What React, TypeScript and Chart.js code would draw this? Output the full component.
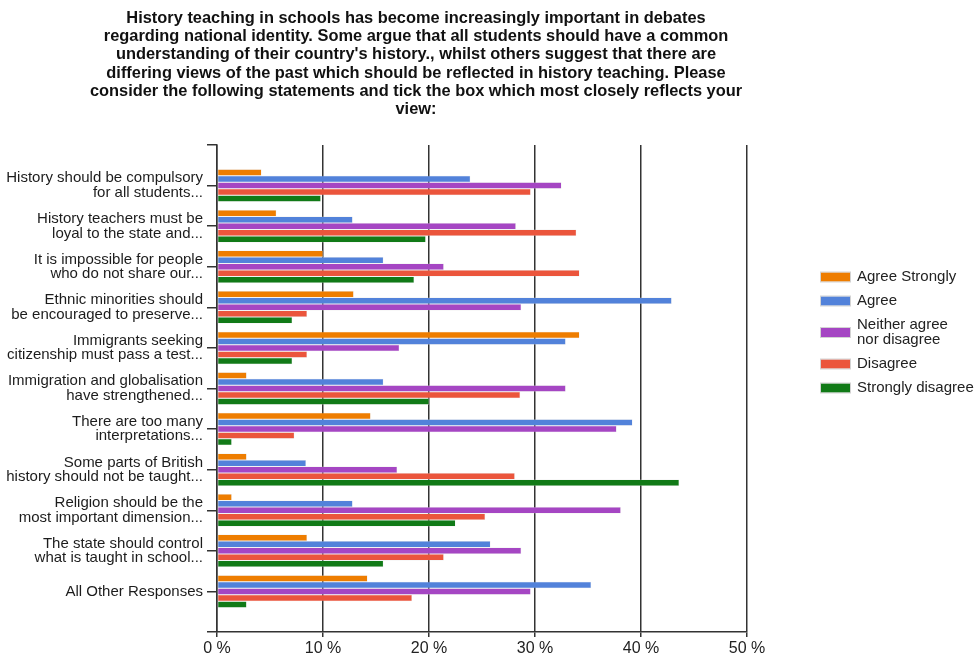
import React, { useEffect, useRef } from 'react';
import { Chart, registerables } from 'chart.js';

Chart.register(...registerables);

const FONT = '"Liberation Sans", Arial, sans-serif';

const TITLE_LINES = [
  'History teaching in schools has become increasingly important in debates',
  'regarding national identity. Some argue that all students should have a common',
  "understanding of their country's history., whilst others suggest that there are",
  'differing views of the past which should be reflected in history teaching. Please',
  'consider the following statements and tick the box which most closely reflects your',
  'view:',
];

const STATEMENTS: string[][] = [
  ['History should be compulsory', 'for all students...'],
  ['History teachers must be', 'loyal to the state and...'],
  ['It is impossible for people', 'who do not share our...'],
  ['Ethnic minorities should', 'be encouraged to preserve...'],
  ['Immigrants seeking', 'citizenship must pass a test...'],
  ['Immigration and globalisation', 'have strengthened...'],
  ['There are too many', 'interpretations...'],
  ['Some parts of British', 'history should not be taught...'],
  ['Religion should be the', 'most important dimension...'],
  ['The state should control', 'what is taught in school...'],
  ['All Other Responses'],
];

// Percent of respondents per statement
const AGREE_STRONGLY = [4.2, 5.6, 10.0, 12.9, 34.2, 2.8, 14.5, 2.8, 1.4, 8.5, 14.2];
const AGREE = [23.9, 12.8, 15.7, 42.9, 32.9, 15.7, 39.2, 8.4, 12.8, 25.8, 35.3];
const NEITHER = [32.5, 28.2, 21.4, 28.7, 17.2, 32.9, 37.7, 17.0, 38.1, 28.7, 29.6];
const DISAGREE = [29.6, 33.9, 34.2, 8.5, 8.5, 28.6, 7.3, 28.1, 25.3, 21.4, 18.4];
const STRONGLY_DISAGREE = [9.8, 19.7, 18.6, 7.1, 7.1, 20.0, 1.4, 43.6, 22.5, 15.7, 2.8];

const SERIES_NAMES: string[][] = [
  ['Agree Strongly'],
  ['Agree'],
  ['Neither agree', 'nor disagree'],
  ['Disagree'],
  ['Strongly disagree'],
];
const SERIES_VALUES = [AGREE_STRONGLY, AGREE, NEITHER, DISAGREE, STRONGLY_DISAGREE];
const SERIES_COLORS = ['#EE7D00', '#5282DA', '#A546C3', '#EB553C', '#117A17'];

const X_MIN = 0;
const X_MAX = 50;
const X_STEP = 10;

// Empty slots above and below the statements leave half a band of air at each end
const Y_LABELS: (string | string[])[] = ['', ...STATEMENTS, ''];

const titleAndLegend = {
  id: 'titleAndLegend',
  afterDraw(chart: any) {
    const ctx: CanvasRenderingContext2D = chart.ctx;
    ctx.save();

    // Title block
    ctx.fillStyle = '#111';
    ctx.font = `bold 16.4px ${FONT}`;
    ctx.textAlign = 'center';
    ctx.textBaseline = 'middle';
    TITLE_LINES.forEach((line, i) => {
      ctx.fillText(line, 416, 18.5 + i * 18.2);
    });

    // Legend on the right
    const lineH = 15;
    const gap = 9;
    const total =
      SERIES_NAMES.reduce((s, n) => s + n.length * lineH, 0) + gap * (SERIES_NAMES.length - 1);
    let y = chart.height / 2 + 4 - total / 2;
    const boxX = chart.chartArea.right + 74;
    const textX = boxX + 36;
    ctx.font = `15px ${FONT}`;
    ctx.textAlign = 'left';
    SERIES_NAMES.forEach((lines, i) => {
      const h = lines.length * lineH;
      const cy = y + h / 2;
      ctx.fillStyle = SERIES_COLORS[i];
      ctx.fillRect(boxX, cy - 4.5, 29, 9);
      ctx.strokeStyle = 'rgba(200,200,200,0.8)';
      ctx.lineWidth = 1;
      ctx.strokeRect(boxX - 0.5, cy - 5, 30, 10);
      ctx.fillStyle = '#222';
      lines.forEach((t, j) => {
        ctx.fillText(t, textX, y + lineH / 2 + j * lineH);
      });
      y += h + gap;
    });
    ctx.restore();
  },
};

export default function App() {
  const canvasRef = useRef<HTMLCanvasElement | null>(null);

  useEffect(() => {
    if (!canvasRef.current) return;
    const chart = new Chart(canvasRef.current, {
      type: 'bar',
      data: {
        labels: Y_LABELS as any,
        datasets: SERIES_VALUES.map((vals, i) => ({
          label: SERIES_NAMES[i].join(' '),
          data: [null, ...vals, null],
          backgroundColor: SERIES_COLORS[i],
          borderColor: 'rgba(220,220,220,0.8)',
          borderWidth: 0.5,
          borderSkipped: false,
          barPercentage: 1,
          categoryPercentage: 0.8,
        })),
      },
      options: {
        indexAxis: 'y',
        animation: false,
        responsive: true,
        maintainAspectRatio: false,
        layout: { padding: { top: 145, right: 228, left: 0, bottom: 0 } },
        plugins: {
          legend: { display: false },
          title: { display: false },
          tooltip: { enabled: false },
        },
        scales: {
          y: {
            type: 'category',
            offset: false,
            afterFit(scale: any) {
              scale.width = 217;
            },
            grid: {
              display: true,
              offset: false,
              drawOnChartArea: false,
              drawTicks: true,
              tickLength: 10,
              color: '#333',
              lineWidth: 1.5,
            },
            border: { display: true, color: '#333', width: 1.5 },
            ticks: {
              autoSkip: false,
              padding: 4,
              color: '#1c1c1c',
              font: { family: FONT, size: 15, lineHeight: 0.97 },
            },
          },
          x: {
            type: 'linear',
            min: X_MIN,
            max: X_MAX,
            afterFit(scale: any) {
              scale.height = 25;
            },
            grid: {
              color: '#333',
              lineWidth: 1.5,
              tickLength: 5,
            },
            border: { display: true, color: '#333', width: 1.5 },
            ticks: {
              stepSize: X_STEP,
              padding: 2,
              color: '#222',
              font: { family: FONT, size: 16 },
              callback: (v: any) => `${v} %`,
            },
          },
        },
      },
      plugins: [titleAndLegend],
    });
    return () => chart.destroy();
  }, []);

  return (
    <div style={{ position: 'fixed', left: 0, top: 0, width: 975, height: 657, background: '#fff' }}>
      <canvas ref={canvasRef} />
    </div>
  );
}
